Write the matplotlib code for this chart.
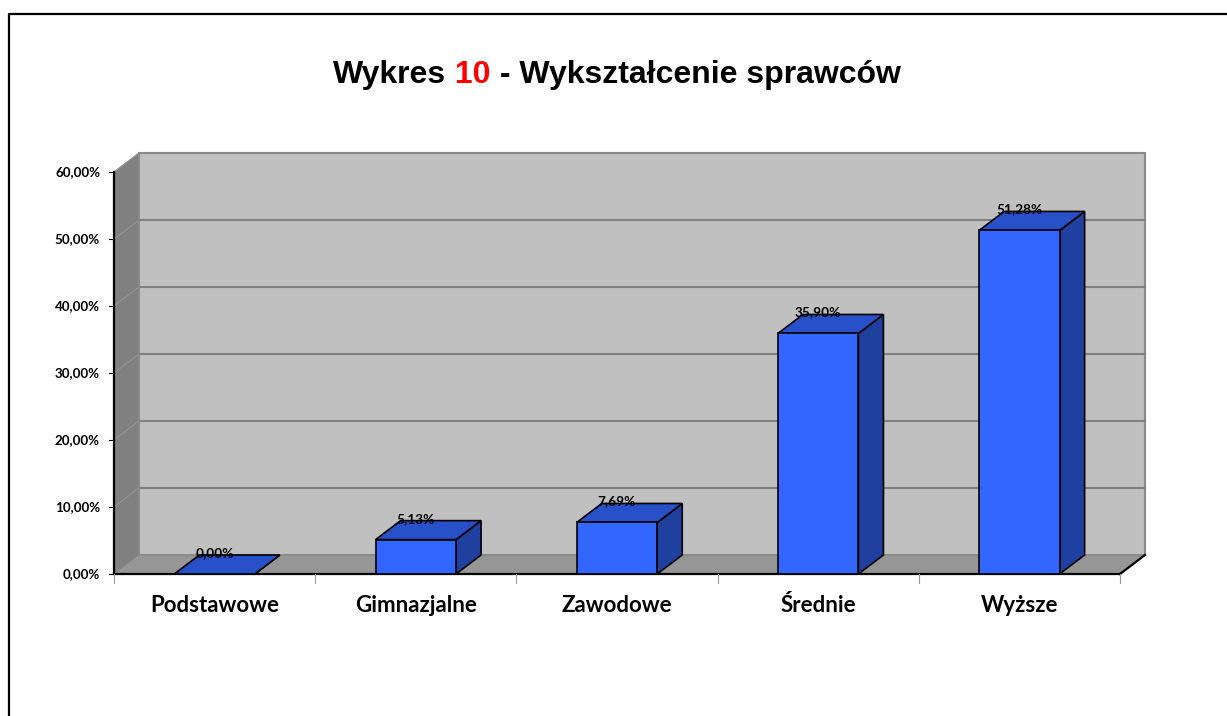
import matplotlib
matplotlib.use('Agg')
import matplotlib.pyplot as plt
from matplotlib.patches import Polygon

# data (percent)
categories = ['Podstawowe', 'Gimnazjalne', 'Zawodowe', 'Średnie', 'Wyższe']
values = [0.00, 5.13, 7.69, 35.90, 51.28]
yticks = [0, 10, 20, 30, 40, 50, 60]

# pixel scale of the reference (1 category = 201.2 px, 1 % = 6.7 px)
PX_X = 201.2
PX_Y = 6.7
dx = 25 / PX_X      # 3d depth offset
dy = 19 / PX_Y
bar_w = 0.40
n = len(categories)
ymax = 60

fig = plt.figure(figsize=(12.27, 7.16), dpi=100)
ax = fig.add_axes([0, 0, 1, 1])
ax.set_xlim(-114 / PX_X, (1227 - 114) / PX_X)
ax.set_ylim(-142 / PX_Y, 574 / PX_Y)
ax.axis('off')

lab_font = 'Lato'

# outer frame
top = (574 - 14) / PX_Y
left = (9 - 114) / PX_X
ax.plot([left, left, 10], [-100, top, top], color='black', lw=1.6, clip_on=True)

# side wall, floor, back wall
ax.add_patch(Polygon([(0, 0), (dx, dy), (dx, ymax + dy), (0, ymax)],
                     closed=True, fc='#808080', ec='#808080', lw=0.8))
ax.add_patch(Polygon([(0, 0), (n, 0), (n + dx, dy), (dx, dy)],
                     closed=True, fc='#969696', ec='none'))
ax.add_patch(Polygon([(dx, dy), (n + dx, dy), (n + dx, ymax + dy), (dx, ymax + dy)],
                     closed=True, fc='#C0C0C0', ec='#8a8a8a', lw=1.5))

for v in yticks[1:-1]:
    ax.plot([dx, n + dx], [v + dy, v + dy], color='#808080', lw=1.5)
for v in yticks[1:]:
    ax.plot([0, dx], [v, v + dy], color='#9a9a9a', lw=0.6)

# axes lines
ax.plot([0, 0], [0, ymax], color='black', lw=1.6)
ax.plot([0, n], [0, 0], color='black', lw=1.6)
ax.plot([n, n + dx], [0, dy], color='black', lw=1.6)
for v in yticks:
    ax.plot([-5 / PX_X, 0], [v, v], color='black', lw=0.8)
    ax.text(-14 / PX_X, v, f'{v},00%', ha='right', va='center',
            fontsize=9.6, fontweight='bold', family=lab_font)
for i in range(n + 1):
    ax.plot([i, i], [0, -9 / PX_Y], color='#999999', lw=0.8)

# bars
for i, v in enumerate(values):
    xl = i + 0.5 - bar_w / 2
    xr = i + 0.5 + bar_w / 2
    ax.add_patch(Polygon([(xr, 0), (xr + dx, dy), (xr + dx, v + dy), (xr, v)],
                         closed=True, fc='#2040A0', ec='black', lw=1.2, zorder=3))
    ax.add_patch(Polygon([(xl, v), (xr, v), (xr + dx, v + dy), (xl + dx, v + dy)],
                         closed=True, fc='#2850C8', ec='black', lw=1.2, zorder=3))
    if v > 0:
        ax.add_patch(Polygon([(xl, 0), (xr, 0), (xr, v), (xl, v)],
                             closed=True, fc='#3366FF', ec='black', lw=1.2, zorder=4))
    ax.text(i + 0.5, v + dy + 0.3, f'{v:.2f}%'.replace('.', ','), ha='center', va='center',
            fontsize=9.8, fontweight='bold', family=lab_font, zorder=5)
    ax.text(i + 0.5, -31 / PX_Y, categories[i], ha='center', va='center',
            fontsize=16, fontweight='bold', family=lab_font)

# title with red number
ty = (574 - 75) / PX_Y
t1 = ax.text(333 / PX_X - 114 / PX_X, ty, 'Wykres', ha='left', va='center',
             fontsize=23, fontweight='bold', family='Liberation Sans')
t2 = ax.annotate(' 10', xy=(1, 0), xycoords=t1, ha='left', va='bottom',
                 fontsize=23, fontweight='bold', family='Liberation Sans', color='#FF0000')
t3 = ax.annotate(' - Wykształcenie sprawców', xy=(1, 0), xycoords=t2, ha='left', va='bottom',
                 fontsize=23, fontweight='bold', family='Liberation Sans')

fig.savefig('out.png', dpi=100)
